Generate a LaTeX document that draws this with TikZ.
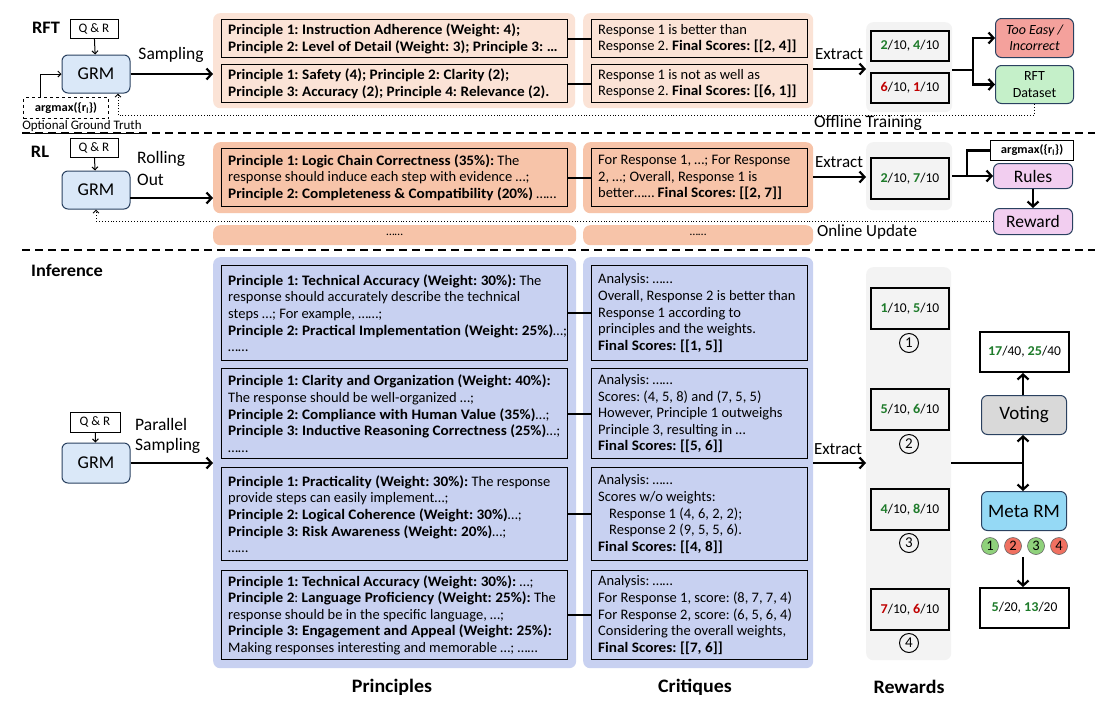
\documentclass[tikz,border=0pt]{standalone}
\usepackage{fontspec}
\setmainfont{Carlito}[BoldFeatures={FakeStretch=1.05}]
\AtBeginDocument{\frenchspacing}
\usetikzlibrary{arrows.meta,calc}
\definecolor{peach}{HTML}{FBE3D6}
\definecolor{salmon}{HTML}{F7C4A9}
\definecolor{lav}{HTML}{C8D1F1}
\definecolor{greyp}{HTML}{F3F3F3}
\definecolor{grmfill}{HTML}{DAE8F8}
\definecolor{edgeblue}{HTML}{2A4160}
\definecolor{easyred}{HTML}{F4A19C}
\definecolor{dsgreen}{HTML}{C5F0C9}
\definecolor{rulepink}{HTML}{F2CEF0}
\definecolor{votegrey}{HTML}{D9D9D9}
\definecolor{metablue}{HTML}{95D9F5}
\definecolor{cgreen}{HTML}{8FD17B}
\definecolor{cred}{HTML}{F07060}
\definecolor{tgreen}{HTML}{1E7B2A}
\definecolor{tred}{HTML}{C00000}
\newcommand{\gnum}[1]{\textbf{\textcolor{tgreen}{#1}}}
\newcommand{\rnum}[1]{\textbf{\textcolor{tred}{#1}}}
\tikzset{
  panel/.style={anchor=north west, rounded corners=7pt, inner sep=0pt, draw=none},
  tbox/.style={anchor=north west, draw=black, line width=1.4pt, inner sep=0pt},
  ttext/.style={anchor=west, align=left, inner sep=0pt, font=\fontsize{14.5}{16.6}\selectfont},
  sbox/.style={anchor=north west, draw=black, line width=2pt, inner sep=0pt, align=center,
     font=\fontsize{13.5}{15}\selectfont},
  grm/.style={rounded corners=6pt, fill=grmfill, draw=edgeblue, line width=1pt, minimum width=68pt,
     minimum height=38pt, font=\fontsize{18}{20}\selectfont, inner sep=0pt},
  qr/.style={draw=black, line width=1pt, minimum width=48pt, minimum height=19pt, inner sep=0pt,
     font=\fontsize{13}{14}\selectfont},
  rbox/.style={anchor=north west, rounded corners=6pt, draw=edgeblue, line width=1pt, inner sep=0pt, align=center},
  big/.style={line width=2.2pt, -{Straight Barb[length=5pt,width=11pt,line width=2.2pt]}},
  bigline/.style={line width=2.2pt},
  thin/.style={line width=1pt, -{Straight Barb[length=3pt,width=6pt]}},
  conn/.style={line width=1.8pt},
  dotl/.style={line width=0.9pt, dotted},
  sep/.style={line width=1.8pt, dash pattern=on 8pt off 5pt},
  circnum/.style={circle, draw=black, line width=1pt, inner sep=0pt, minimum size=19pt, font=\fontsize{15}{15}\selectfont},
  mcirc/.style={circle, draw=black!60, line width=0.6pt, inner sep=0pt, minimum size=17pt, font=\fontsize{14.5}{14.5}\selectfont},
  lbl/.style={inner sep=0pt},
  sect/.style={inner sep=0pt, font=\bfseries\fontsize{17.5}{17.5}\selectfont},
  foot/.style={inner sep=0pt, font=\bfseries\fontsize{19}{19}\selectfont}
}
% boxed text: name, north-west corner, width, height, text
\newcommand{\tbx}[5]{%
  \node[tbox, minimum width=#3pt, minimum height=#4pt] (#1) at (#2) {};
  \node[ttext] (#1t) at ([xshift=7pt]#1.west) {#5};}
\begin{document}
\begin{tikzpicture}[x=1pt,y=-1pt]
\useasboundingbox[fill=white] (0,0) rectangle (1100,710);

% separators
\draw[sep] (22,133) -- (1095,133);
\draw[sep] (22,250) -- (1095,250);

%================ RFT ================
\node[sect] (rftl) at (46,28) {RFT};
\node[qr] (qr1) at (94,29) {Q \& R};
\node[grm] (grm1) at (96,74) {GRM};
\node[anchor=north west, draw, dashed, line width=1.1pt, minimum width=85pt, minimum height=21pt, inner sep=0pt,
  font=\bfseries\fontsize{12}{14}\selectfont] (am1) at (23,97) {argmax(\{r\textsubscript{l}\})};
\node[lbl, font=\fontsize{13}{13}\selectfont] (ogt) at (82,127) {\underline{Optional Ground Truth}};
\node[lbl, font=\fontsize{17.5}{17.5}\selectfont] (samp) at (171,55) {Sampling};

\node[panel, fill=peach, minimum width=362pt, minimum height=95pt] (pp1) at (213,13) {};
\tbx{rp1}{221,19}{346}{38}{\textbf{Principle 1: Instruction Adherence (Weight: 4);}\\\textbf{Principle 2: Level of Detail (Weight: 3); Principle 3: …}}
\tbx{rp2}{221,64}{346}{38}{\textbf{Principle 1: Safety (4); Principle 2: Clarity (2);}\\\textbf{Principle 3: Accuracy (2); Principle 4: Relevance (2).}}
\node[panel, fill=peach, minimum width=230pt, minimum height=95pt] (cp1) at (583,13) {};
\tbx{rc1}{591,19}{216}{38}{Response 1 is better than\\Response 2. \textbf{Final Scores: [[2, 4]]}}
\tbx{rc2}{591,64}{216}{38}{Response 1 is not as well as\\Response 2. \textbf{Final Scores: [[6, 1]]}}
\draw[conn] (rp1.east) -- (rc1.west);
\draw[conn] (rp2.east) -- (rc2.west);

\node[panel, fill=greyp, minimum width=86pt, minimum height=90pt] (rw1) at (866,22) {};
\node[sbox, minimum width=78pt, minimum height=30pt] (s1) at (870,30) {\gnum{2}/10, \gnum{4}/10};
\node[sbox, minimum width=78pt, minimum height=30pt] (s2) at (870,72) {\rnum{6}/10, \rnum{1}/10};
\node[lbl, font=\fontsize{17}{17}\selectfont] (ex1l) at (839,54) {Extract};
\coordinate (ex1) at (813,69);
\draw[big] (ex1) -- (ex1 -| rw1.west);

\node[rbox, fill=easyred, minimum width=78pt, minimum height=39pt, font=\itshape\fontsize{14}{16.5}\selectfont] (easy) at (995,18) {Too Easy /\\Incorrect};
\node[rbox, fill=dsgreen, minimum width=78pt, minimum height=38pt, font=\fontsize{14}{16.5}\selectfont] (ds) at (995,65) {RFT\\Dataset};
\coordinate (j1) at (973,70);
\draw[bigline] (j1 -| rw1.east) -- (j1);
\draw[big] (j1) |- (easy.west);
\draw[big] (j1) |- (ds.west);

\coordinate (off) at (118,115);
\draw[dotl] (ds.south) |- (off);
\draw[dotl, -{Straight Barb[length=3pt,width=6pt]}] (off) -- (off |- grm1.south);
\node[lbl, font=\fontsize{17.5}{17.5}\selectfont] (offl) at (868,123) {Offline Training};

\draw[thin] (qr1) -- (grm1);
\draw[thin] ([xshift=17pt]am1.north west) |- (grm1.west);
\draw[big] (grm1.east) -- (grm1.east -| pp1.west);

%================ RL ================
\node[sect] (rll) at (40,152) {RL};
\node[qr] (qr2) at (94,148) {Q \& R};
\node[grm] (grm2) at (96,190) {GRM};
\node[anchor=north west, inner sep=0pt, align=left, font=\fontsize{17.5}{22}\selectfont] (roll) at (137,151) {Rolling\\Out};

\node[panel, fill=salmon, minimum width=363pt, minimum height=71pt] (pp2) at (213,142) {};
\tbx{rp3}{221,148}{346}{58}{\textbf{Principle 1: Logic Chain Correctness (35\%):} The\\response should induce each step with evidence …;\\\textbf{Principle 2: Completeness \& Compatibility (20\%)} ……}
\node[panel, fill=salmon, minimum width=230pt, minimum height=71pt] (cp2) at (583,142) {};
\tbx{rc3}{591,148}{216}{58}{For Response 1, …; For Response\\2, …; Overall, Response 1 is\\better…… \textbf{Final Scores: [[2, 7]]}}
\draw[conn] (rp3.east) -- (rc3.west);
\node[panel, fill=salmon, minimum width=363pt, minimum height=20pt, font=\fontsize{12}{12}\selectfont] (dp) at (213,225) {……};
\node[panel, fill=salmon, minimum width=230pt, minimum height=20pt, font=\fontsize{12}{12}\selectfont] (dc) at (583,225) {……};

\node[panel, fill=greyp, minimum width=86pt, minimum height=68pt] (rw2) at (866,142) {};
\node[sbox, minimum width=78pt, minimum height=41pt] (s3) at (870,157) {\gnum{2}/10, \gnum{7}/10};
\node[lbl, font=\fontsize{17}{17}\selectfont] (ex2l) at (839,162) {Extract};
\coordinate (ex2) at (813,177);
\draw[big] (ex2) -- (ex2 -| rw2.west);

\node[anchor=north west, draw, line width=1.1pt, minimum width=83pt, minimum height=20pt, inner sep=0pt,
  font=\bfseries\fontsize{12}{14}\selectfont] (am2) at (990,140) {argmax(\{r\textsubscript{l}\})};
\node[rbox, fill=rulepink, minimum width=79pt, minimum height=25pt, font=\fontsize{17.5}{17.5}\selectfont] (rules) at (993,163) {Rules};
\node[rbox, fill=rulepink, minimum width=79pt, minimum height=26pt, font=\fontsize{17.5}{17.5}\selectfont] (rew) at (993,208) {Reward};
\coordinate (j2) at (967,176);
\draw[bigline] (j2 -| rw2.east) -- (j2);
\draw[big] (j2) -- (j2 -| rules.west);
\draw[bigline] (j2) |- (am2.west);
\draw[big] (rules.south) -- (rew.north);

\coordinate (on) at (96,221);
\draw[dotl] (rew.west) -- (rew.west -| on);
\draw[dotl, -{Straight Barb[length=3pt,width=6pt]}] (rew.west -| on) -- (on |- grm2.south);
\node[lbl, font=\fontsize{17}{17}\selectfont] (onl) at (867,232) {Online Update};

\draw[thin] (qr2) -- (grm2);
\coordinate (ro) at (130,198);
\draw[big] (ro) -- (ro -| pp2.west);

%================ Inference ================
\node[sect] (infl) at (67,270) {Inference};
\node[qr, minimum width=50pt, minimum height=20pt] (qr3) at (95,422) {Q \& R};
\node[grm, minimum height=40pt] (grm3) at (96,463) {GRM};
\node[anchor=north west, inner sep=0pt, align=left, font=\fontsize{17.5}{20}\selectfont] (par) at (135,418) {Parallel\\Sampling};
\draw[thin] (qr3) -- (grm3);

\node[panel, fill=lav, minimum width=363pt, minimum height=411pt] (ip) at (213,257) {};
\node[panel, fill=lav, minimum width=230pt, minimum height=411pt] (ic) at (583,257) {};
\draw[big] (grm3.east) -- (grm3.east -| ip.west);

\tbx{ib1}{221,265}{346}{95}{\textbf{Principle 1: Technical Accuracy (Weight: 30\%):} The\\response should accurately describe the technical\\steps …; For example, ……;\\\textbf{Principle 2: Practical Implementation (Weight: 25\%)}…;\\……}
\tbx{ib2}{221,368}{346}{90}{\textbf{Principle 1: Clarity and Organization (Weight: 40\%):}\\The response should be well-organized …;\\\textbf{Principle 2: Compliance with Human Value (35\%)}…;\\\textbf{Principle 3: Inductive Reasoning Correctness (25\%)}…;\\……}
\tbx{ib3}{221,467}{346}{93}{\textbf{Principle 1: Practicality (Weight: 30\%):} The response\\provide steps can easily implement…;\\\textbf{Principle 2: Logical Coherence (Weight: 30\%)}…;\\\textbf{Principle 3: Risk Awareness (Weight: 20\%)}…;\\……}
\tbx{ib4}{221,570}{346}{89}{\textbf{Principle 1: Technical Accuracy (Weight: 30\%):} …;\\\textbf{Principle 2}: \textbf{Language Proficiency (Weight: 25\%):} The\\response should be in the specific language, …;\\\textbf{Principle 3: Engagement and Appeal (Weight: 25\%):}\\Making responses interesting and memorable …; ……}

\tbx{ic1}{591,265}{216}{95}{Analysis: ……\\Overall, Response 2 is better than\\Response 1 according to\\principles and the weights.\\\textbf{Final Scores: [[1, 5]]}}
\tbx{ic2}{591,368}{216}{90}{Analysis: ……\\Scores: (4, 5, 8) and (7, 5, 5)\\However, Principle 1 outweighs\\Principle 3, resulting in …\\\textbf{Final Scores: [[5, 6]]}}
\tbx{ic3}{591,467}{216}{93}{Analysis: ……\\Scores w/o weights:\\\hspace*{11pt}Response 1 (4, 6, 2, 2);\\\hspace*{11pt}Response 2 (9, 5, 5, 6).\\\textbf{Final Scores: [[4, 8]]}}
\tbx{ic4}{591,570}{216}{89}{Analysis: ……\\For Response 1, score: (8, 7, 7, 4)\\For Response 2, score: (6, 5, 6, 4)\\Considering the overall weights,\\\textbf{Final Scores: [[7, 6]]}}
\draw[conn] (ib1.east) -- (ic1.west);
\draw[conn] (ib2.east) -- (ic2.west);
\draw[conn] (ib3.east) -- (ic3.west);
\draw[conn] (ib4.east) -- (ic4.west);

\node[panel, fill=greyp, minimum width=85pt, minimum height=393pt] (rw3) at (866,267) {};
\node[sbox, minimum width=78pt, minimum height=41pt] (t1) at (870,287) {\gnum{1}/10, \gnum{5}/10};
\node[sbox, minimum width=78pt, minimum height=41pt] (t2) at (870,388) {\gnum{5}/10, \gnum{6}/10};
\node[sbox, minimum width=78pt, minimum height=41pt] (t3) at (870,488) {\gnum{4}/10, \gnum{8}/10};
\node[sbox, minimum width=78pt, minimum height=41pt] (t4) at (870,588) {\rnum{7}/10, \rnum{6}/10};
\node[circnum] (c1) at (909,343) {1};
\node[circnum] (c2) at (909,444) {2};
\node[circnum] (c3) at (909,543) {3};
\node[circnum] (c4) at (909,643) {4};

\node[lbl, font=\fontsize{17}{17}\selectfont] (ex3l) at (838,449) {Extract};
\coordinate (ex3) at (813,463);
\draw[big] (ex3) -- (ex3 -| rw3.west);

\node[rbox, fill=votegrey, minimum width=85pt, minimum height=39pt, font=\fontsize{19}{19}\selectfont] (vote) at (981,395) {Voting};
\node[sbox, minimum width=89pt, minimum height=40pt] (top) at (979,331) {\gnum{17}/40, \gnum{25}/40};
\node[rbox, fill=metablue, minimum width=85pt, minimum height=39pt, font=\fontsize{19}{19}\selectfont] (meta) at (981,491) {Meta RM};
\node[mcirc, fill=cgreen] (m1) at (990,546) {1};
\node[mcirc, fill=cred] (m2) at (1013,546) {2};
\node[mcirc, fill=cgreen] (m3) at (1036,546) {3};
\node[mcirc, fill=cred] (m4) at (1059,546) {4};
\node[sbox, minimum width=89pt, minimum height=40pt] (bot) at (979,587) {\gnum{5}/20, \gnum{13}/20};
\coordinate (j3) at (1023,463);
\draw[bigline] (j3 -| rw3.east) -- (j3);
\draw[big] (j3) -- (j3 |- vote.south);
\draw[big] (j3) -- (j3 |- meta.north);
\draw[big] (vote.north -| j3) -- (j3 |- top.south);
\coordinate (mb) at (1023,557);
\draw[big] (mb) -- (mb |- bot.north);

\node[foot] (lp) at (392,687) {Principles};
\node[foot] (lc) at (695,687) {Critiques};
\node[foot] (lr) at (909,687) {Rewards};
\end{tikzpicture}
\end{document}
